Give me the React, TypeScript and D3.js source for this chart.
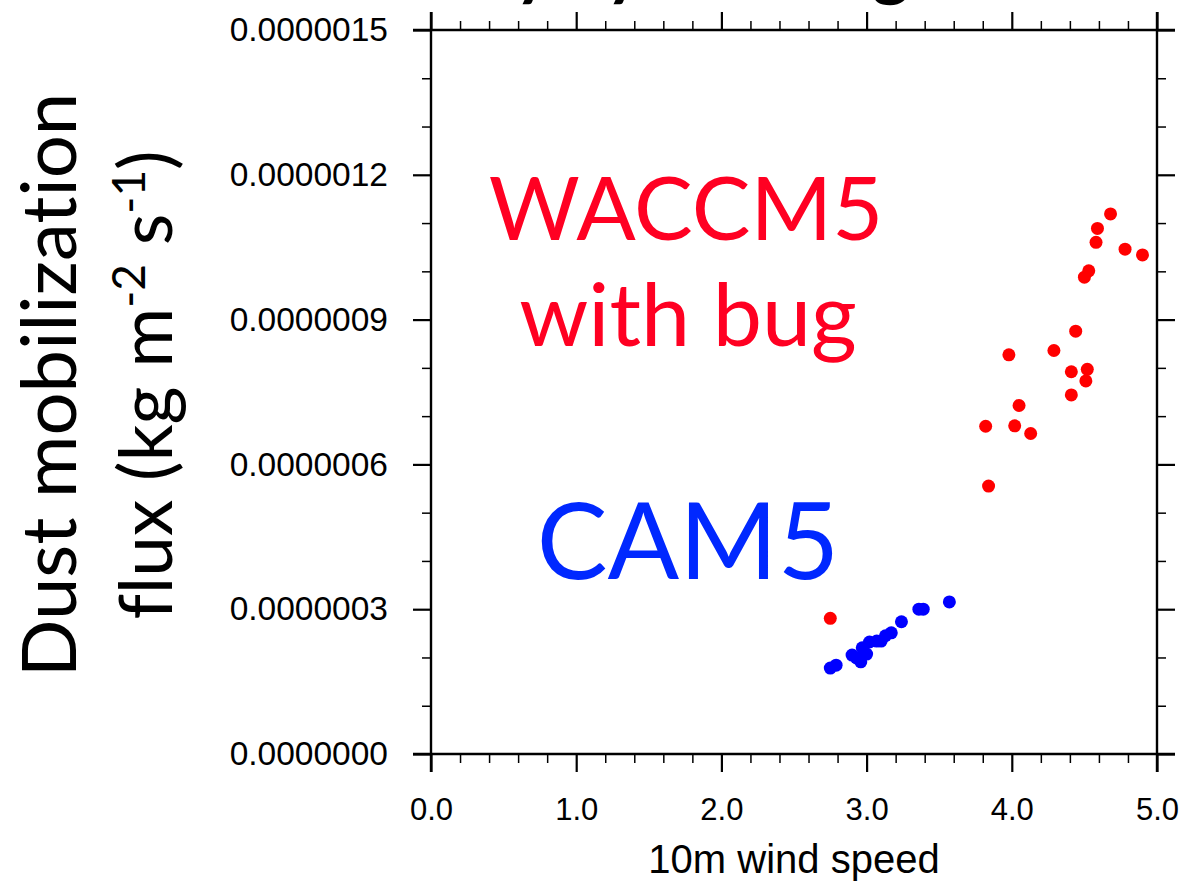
import {useRef, useEffect} from "react";
import * as d3 from "d3";

// frame of the plot, in px
const width = 1181;
const height = 882;
const left = 431, right = 1157, top = 30, bottom = 754;
const ext = 18; // axis lines stick out past the frame

const xTicks = [0, 1, 2, 3, 4, 5];
const yTicks = [0, 3e-7, 6e-7, 9e-7, 1.2e-6, 1.5e-6];

// WACCM5 (with bug) — red
const waccmWind = [4.68, 4.59, 4.58, 4.78, 4.90, 4.53, 4.50, 4.44, 3.98, 4.29, 4.41, 4.52, 4.51, 4.41, 4.05, 3.82, 4.02, 4.13, 3.84, 2.75];
const waccmFlux = [1.119e-6, 1.089e-6, 1.060e-6, 1.046e-6, 1.034e-6, 1.001e-6, 0.988e-6, 0.876e-6, 0.827e-6, 0.836e-6,
                   0.792e-6, 0.797e-6, 0.773e-6, 0.744e-6, 0.722e-6, 0.679e-6, 0.680e-6, 0.664e-6, 0.555e-6, 0.281e-6];

// CAM5 — blue
const camWind = [3.57, 3.36, 3.39, 3.24, 3.17, 3.13, 3.10, 3.07, 3.02, 2.97, 3.00, 2.90, 2.93, 2.96, 2.79, 2.75];
const camFlux = [3.15e-7, 3.00e-7, 3.00e-7, 2.74e-7, 2.51e-7, 2.45e-7, 2.34e-7, 2.34e-7, 2.32e-7, 2.20e-7,
                 2.07e-7, 2.05e-7, 1.99e-7, 1.91e-7, 1.84e-7, 1.78e-7];

const tickFont = "'Liberation Sans', Arial, sans-serif";
const titleFont = "Lato, 'Open Sans', sans-serif";

export default function App() {
    const root = useRef<SVGGElement>(null);

    const x = d3.scaleLinear([0, 5], [left, right]);
    const y = d3.scaleLinear([0, 1.5e-6], [bottom, top]);

    const xMinor = d3.range(0, 5.001, 0.2).filter(v => Math.abs(v - Math.round(v)) > 1e-6);
    const yMinor = d3.range(0, 1.5e-6 + 1e-9, 1e-7).filter((v, i) => i % 3 !== 0);

    useEffect(() => {
        const g = d3.select(root.current);
        g.selectAll("*").remove();

        const style = (sel: any, w: number) => {
            sel.select(".domain").remove();
            sel.selectAll("line").attr("stroke", "#000").attr("stroke-width", w);
            sel.selectAll("text").attr("font-family", tickFont).attr("font-size", 32).attr("fill", "#000");
        };

        // minor ticks
        g.append("g").attr("transform", `translate(0,${bottom})`)
            .call(d3.axisBottom(x).tickValues(xMinor).tickSize(9).tickFormat(() => ""))
            .call(s => style(s, 1.5));
        g.append("g").attr("transform", `translate(0,${top})`)
            .call(d3.axisTop(x).tickValues(xMinor).tickSize(9).tickFormat(() => ""))
            .call(s => style(s, 1.5));
        g.append("g").attr("transform", `translate(${left},0)`)
            .call(d3.axisLeft(y).tickValues(yMinor).tickSize(9).tickFormat(() => ""))
            .call(s => style(s, 1.5));
        g.append("g").attr("transform", `translate(${right},0)`)
            .call(d3.axisRight(y).tickValues(yMinor).tickSize(9).tickFormat(() => ""))
            .call(s => style(s, 1.5));

        // major ticks + labels
        g.append("g").attr("transform", `translate(0,${bottom})`)
            .call(d3.axisBottom(x).tickValues(xTicks).tickSize(ext).tickPadding(26).tickFormat(d3.format(".1f")))
            .call(s => style(s, 2.2))
            .call(s => s.selectAll("text").attr("font-size", 31));
        g.append("g").attr("transform", `translate(0,${top})`)
            .call(d3.axisTop(x).tickValues(xTicks).tickSize(ext).tickFormat(() => ""))
            .call(s => style(s, 2.2));
        g.append("g").attr("transform", `translate(${left},0)`)
            .call(d3.axisLeft(y).tickValues(yTicks).tickSize(ext).tickPadding(25).tickFormat(d3.format(".7f")))
            .call(s => style(s, 2.2))
            .call(s => s.selectAll("text").attr("font-size", 33.5));
        g.append("g").attr("transform", `translate(${right},0)`)
            .call(d3.axisRight(y).tickValues(yTicks).tickSize(ext).tickFormat(() => ""))
            .call(s => style(s, 2.2));

        // frame, lines run past the corners
        const frame = [
            [left - ext, bottom, right + ext, bottom],
            [left - ext, top, right + ext, top],
            [left, top - ext, left, bottom + ext],
            [right, top - ext, right, bottom + ext],
        ];
        g.append("g").selectAll("line").data(frame).enter().append("line")
            .attr("x1", d => d[0]).attr("y1", d => d[1])
            .attr("x2", d => d[2]).attr("y2", d => d[3])
            .attr("stroke", "#000").attr("stroke-width", 2.4);

        g.append("g").selectAll("circle").data(waccmWind).enter().append("circle")
            .attr("cx", (d: number) => x(d))
            .attr("cy", (d: number, i: number) => y(waccmFlux[i]))
            .attr("r", 6.5)
            .attr("fill", "#ff0000");

        g.append("g").selectAll("circle").data(camWind).enter().append("circle")
            .attr("cx", (d: number) => x(d))
            .attr("cy", (d: number, i: number) => y(camFlux[i]))
            .attr("r", 6.5)
            .attr("fill", "#0000ff");
    });

    return (
        <svg width={width} height={height} style={{position: "absolute", left: 0, top: 0, background: "#fff"}}>
            {/* title, mostly cut off by the top edge as in the source */}
            <text x={225} y={-8} fontFamily={titleFont} fontWeight="bold" fontSize={70} fill="#000">
                Sensitivity by bin range
            </text>

            <g ref={root}></g>

            <text x={(left + right) / 2} y={873} textAnchor="middle" fontFamily={tickFont} fontSize={40} fill="#000">
                10m wind speed
            </text>

            <g fontFamily={titleFont} fill="#000" textAnchor="middle" style={{fontVariantLigatures: "none"}}>
                <text transform={`translate(76,385) rotate(-90)`} fontSize={76}>Dust mobilization</text>
                <text transform={`translate(172,385) rotate(-90)`} fontSize={73}>
                    flux (kg m<tspan dy={-27} fontSize={46}>-2</tspan><tspan dy={27}> s</tspan><tspan dy={-27} fontSize={46}>-1</tspan><tspan dy={27}>)</tspan>
                </text>
            </g>

            <g fontFamily={titleFont} textAnchor="middle">
                <text x={686} y={240} fontSize={88} fill="#ff0022">WACCM5</text>
                <text x={688} y={346} fontSize={88} fill="#ff0022">with bug</text>
                <text x={688} y={579} fontSize={106} fill="#0028ff">CAM5</text>
            </g>
        </svg>
    );
}
